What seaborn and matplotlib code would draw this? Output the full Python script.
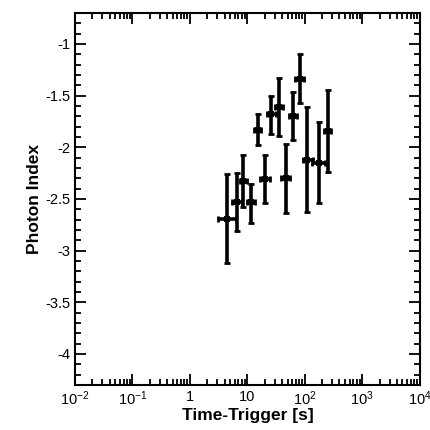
import numpy as np
import pandas as pd
import seaborn as sns
import matplotlib.pyplot as plt
from matplotlib.ticker import FixedLocator, FixedFormatter, MultipleLocator, LogLocator, NullFormatter

# Veriler
time = [4.35, 6.5, 8.45, 11.4, 20.0, 15.0, 26.0, 35.0, 47.0, 63.0, 82.0, 111.0, 175.0, 254.0]
time_lo = [3.07, 5.5, 7.3, 9.8, 16.5, 13.0, 22.0, 30.0, 39.0, 52.0, 68.0, 91.0, 134.0, 214.0]
time_hi = [6.3, 7.9, 9.9, 13.3, 24.5, 17.5, 31.0, 41.0, 55.0, 74.0, 98.0, 139.0, 223.0, 283.0]
index = [-2.69, -2.53, -2.33, -2.53, -2.31, -1.83, -1.68, -1.61, -2.30, -1.70, -1.34, -2.12, -2.15, -1.84]
index_lo = [-3.12, -2.81, -2.58, -2.73, -2.54, -1.98, -1.87, -1.89, -2.64, -1.93, -1.57, -2.63, -2.54, -2.24]
index_hi = [-2.26, -2.25, -2.08, -2.36, -2.08, -1.68, -1.50, -1.33, -1.97, -1.47, -1.10, -1.61, -1.76, -1.45]

xticks = [1e-2, 1e-1, 1, 10, 1e2, 1e3, 1e4]
xticklabels = ["$10^{-2}$", "$10^{-1}$", "1", "10", "$10^{2}$", "$10^{3}$", "$10^{4}$"]
yticks = [-4, -3.5, -3, -2.5, -2, -1.5, -1]
yticklabels = ["-4", "-3.5", "-3", "-2.5", "-2", "-1.5", "-1"]

df = pd.DataFrame({"t": time, "t_lo": time_lo, "t_hi": time_hi,
                   "g": index, "g_lo": index_lo, "g_hi": index_hi})

sns.set_style("ticks")
plt.rcParams["font.family"] = ["Liberation Sans", "DejaVu Sans"]
plt.rcParams["mathtext.fontset"] = "custom"
plt.rcParams["mathtext.rm"] = "Liberation Sans"
plt.rcParams["mathtext.it"] = "Liberation Sans"
plt.rcParams["mathtext.default"] = "regular"
for k in ["text.color", "axes.labelcolor", "xtick.color", "ytick.color", "axes.edgecolor"]:
    plt.rcParams[k] = "black"

fig = plt.figure(figsize=(4.31, 4.30), dpi=100)
ax = fig.add_axes([0.174, 0.105, 0.800, 0.865])

xerr = [df.t - df.t_lo, df.t_hi - df.t]
yerr = [df.g - df.g_lo, df.g_hi - df.g]
ax.errorbar(df.t, df.g, xerr=xerr, yerr=yerr, fmt="none", ecolor="black",
            elinewidth=2.6, capsize=2.5, capthick=2)
sns.scatterplot(x="t", y="g", data=df, marker="s", s=18, color="black",
                edgecolor="black", linewidth=0, ax=ax, zorder=3)

ax.set_xscale("log")
ax.set_xlim(1e-2, 1e4)
ax.set_ylim(-4.3, -0.7)

ax.xaxis.set_major_locator(FixedLocator(xticks))
ax.xaxis.set_major_formatter(FixedFormatter(xticklabels))
ax.xaxis.set_minor_locator(LogLocator(base=10, subs=np.arange(2, 10), numticks=20))
ax.xaxis.set_minor_formatter(NullFormatter())
ax.yaxis.set_major_locator(FixedLocator(yticks))
ax.yaxis.set_major_formatter(FixedFormatter(yticklabels))
ax.yaxis.set_minor_locator(MultipleLocator(0.1))

ax.tick_params(which="both", direction="in", top=True, right=True, width=1.3, labelsize=10.5)
ax.tick_params(which="major", length=8)
ax.tick_params(which="minor", length=4)
for s in ax.spines.values():
    s.set_linewidth(1.5)

ax.set_xlabel("Time-Trigger [s]", fontsize=12.5, fontweight="bold", labelpad=0)
ax.set_ylabel("Photon Index", fontsize=12.5, fontweight="bold", labelpad=2)

fig.savefig("out.png", dpi=100)
